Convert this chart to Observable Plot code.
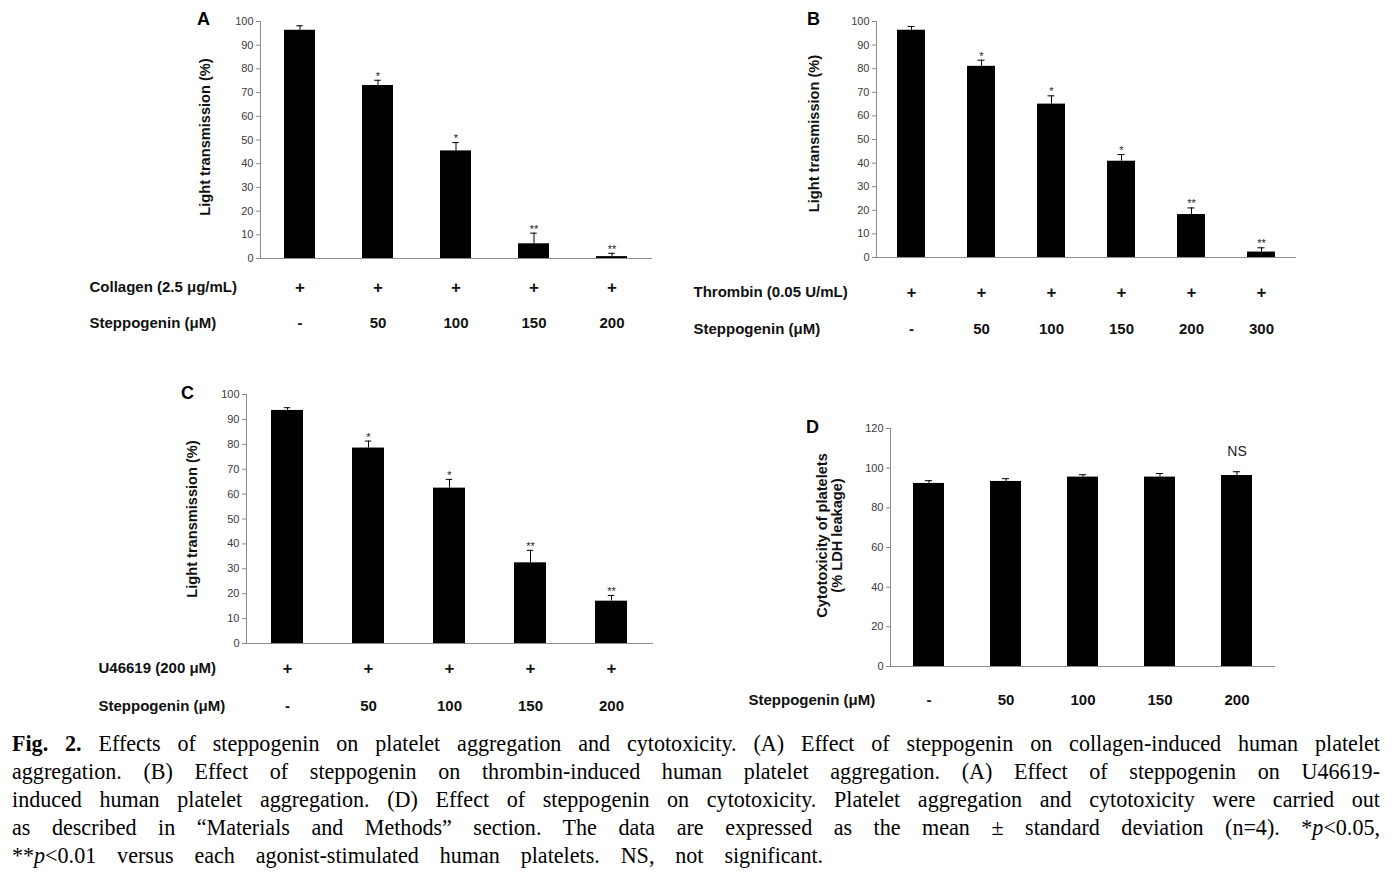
<!DOCTYPE html>
<html>
<head>
<meta charset="utf-8">
<script src="https://cdn.jsdelivr.net/npm/d3@7"></script>
<script src="https://cdn.jsdelivr.net/npm/@observablehq/plot@0.6"></script>
<style>
  html, body { margin: 0; padding: 0; background: #fff; }
  #fig { position: relative; width: 1396px; height: 892px; overflow: hidden; background: #fff; }
  #fig svg { position: absolute; overflow: visible; background: transparent; }
  #caption { position: absolute; left: 12px; top: 730px; width: 1425px; transform: scaleX(0.96); transform-origin: 0 0; font-family: "Liberation Serif", "Times New Roman", serif; font-size: 23px; line-height: 28px; color: #000; }
  #caption .j { text-align: justify; text-align-last: justify; }
  #caption .l { text-align: left; word-spacing: 16px; }
</style>
</head>
<body>
<div id="fig">
  <div id="caption">
    <div class="j"><b>Fig. 2.</b> Effects of steppogenin on platelet aggregation and cytotoxicity. (A) Effect of steppogenin on collagen-induced human platelet</div>
    <div class="j">aggregation. (B) Effect of steppogenin on thrombin-induced human platelet aggregation. (A) Effect of steppogenin on U46619-</div>
    <div class="j">induced human platelet aggregation. (D) Effect of steppogenin on cytotoxicity. Platelet aggregation and cytotoxicity were carried out</div>
    <div class="j">as described in “Materials and Methods” section. The data are expressed as the mean ± standard deviation (n=4). *<i>p</i>&lt;0.05,</div>
    <div class="l">**<i>p</i>&lt;0.01 versus each agonist-stimulated human platelets. NS, not significant.</div>
  </div>
</div>
<script>
// ---- Data ----
const doseA = ["-", "50", "100", "150", "200"];
const agonistA = ["+", "+", "+", "+", "+"];
const meanA = [96.3, 73.0, 45.4, 6.2, 0.8];
const sdA = [1.9, 2.2, 3.5, 4.5, 1.4];
const sigA = ["", "*", "*", "**", "**"];

const doseB = ["-", "50", "100", "150", "200", "300"];
const agonistB = ["+", "+", "+", "+", "+", "+"];
const meanB = [96.3, 81.0, 65.0, 40.8, 18.2, 2.3];
const sdB = [1.6, 2.6, 3.5, 2.8, 2.8, 1.8];
const sigB = ["", "*", "*", "*", "**", "**"];

const doseC = ["-", "50", "100", "150", "200"];
const agonistC = ["+", "+", "+", "+", "+"];
const meanC = [93.6, 78.5, 62.4, 32.4, 17.0];
const sdC = [1.1, 2.8, 3.5, 5.0, 2.3];
const sigC = ["", "*", "*", "**", "**"];

const doseD = ["-", "50", "100", "150", "200"];
const meanD = [92.3, 93.3, 95.5, 95.5, 96.3];
const sdD = [1.4, 1.4, 1.2, 1.8, 1.9];
const sigD = ["", "", "", "", "NS"];

const ticks100 = [0, 10, 20, 30, 40, 50, 60, 70, 80, 90, 100];
const ticks120 = [0, 20, 40, 60, 80, 100, 120];

const titleLT = "Light transmission (%)";
const titleD = "Cytotoxicity of platelets\n(% LDH leakage)";
const stepLabel = "Steppogenin (μM)";

// ---- Panel builder ----
const GRAY = "#8c8c8c";
function panel(cfg) {
  const data = cfg.dose.map((c, i) => ({
    cat: c, mean: cfg.mean[i], hi: cfg.mean[i] + cfg.sd[i], sig: cfg.sig[i],
    ag: cfg.agonist ? cfg.agonist[i] : null
  }));
  const marginLeft = cfg.axisX - cfg.left;
  const marginTop = cfg.frameTop - cfg.top;
  const marginBottom = cfg.top + cfg.height - cfg.frameBottom;
  const marginRight = cfg.left + cfg.width - cfg.frameRight;
  const step = (cfg.frameRight - cfg.axisX) / cfg.dose.length;
  const bw = step * 0.4;
  const capInset = (bw - 7) / 2;
  const bold = {fontSize: 15, fontWeight: "bold", fill: "#111"};

  const marks = [
    Plot.barY(data, {x: "cat", y: "mean", fill: "#000"}),
    Plot.ruleX(data, {x: "cat", y1: "mean", y2: "hi", stroke: "#000", strokeWidth: 1}),
    Plot.tickY(data, {x: "cat", y: "hi", stroke: "#000", strokeWidth: 1, insetLeft: capInset, insetRight: capInset}),
    Plot.text(data.filter(d => d.sig && d.sig !== "NS"), {x: "cat", y: "hi", text: "sig", dy: -4, fontSize: 11, fill: "#222", lineAnchor: "middle"}),
    Plot.text(data.filter(d => d.sig === "NS"), {x: "cat", y: "hi", text: "sig", dy: -20, fontSize: 14, fill: "#222", lineAnchor: "middle"}),
    Plot.ruleY([0], {stroke: GRAY}),
    Plot.frame({anchor: "left", stroke: GRAY}),
    Plot.axisY({ticks: cfg.ticks, tickSize: 4, tickPadding: 3, fontSize: 11, fill: "#3a3a3a", stroke: GRAY, label: null}),
    // panel letter
    Plot.text([cfg.letter], {text: d => d, frameAnchor: "top-left", dx: cfg.letterDx, dy: cfg.letterDy, fontSize: 18, fontWeight: "bold", textAnchor: "middle", lineAnchor: "middle", fill: "#000"}),
    // y title
    Plot.text([cfg.title], {text: d => d, frameAnchor: "left", rotate: -90, dx: cfg.titleDx, dy: cfg.titleDy, fontSize: 14.6, fontWeight: "bold", textAnchor: "middle", lineAnchor: "middle", lineHeight: 1.05, fill: "#111"}),
    // dose row
    Plot.text(data, {x: "cat", text: "cat", frameAnchor: "bottom", dy: cfg.doseDy, lineAnchor: "middle", ...bold}),
    Plot.text([stepLabel], {text: d => d, frameAnchor: "bottom-left", dx: cfg.rowX - cfg.axisX, dy: cfg.doseDy, textAnchor: "start", lineAnchor: "middle", ...bold})
  ];
  if (cfg.agonist) {
    marks.push(
      Plot.text(data, {x: "cat", text: "ag", frameAnchor: "bottom", dy: cfg.agDy, lineAnchor: "middle", ...bold, fontSize: 17}),
      Plot.text([cfg.agLabel], {text: d => d, frameAnchor: "bottom-left", dx: cfg.rowX - cfg.axisX, dy: cfg.agDy, textAnchor: "start", lineAnchor: "middle", ...bold})
    );
  }
  const svg = Plot.plot({
    width: cfg.width, height: cfg.height,
    marginLeft, marginTop, marginBottom, marginRight,
    style: {fontFamily: "'Liberation Sans', Arial, sans-serif", background: "transparent", overflow: "visible"},
    x: {domain: cfg.dose, paddingInner: 0.6, paddingOuter: 0.3, axis: null},
    y: {domain: cfg.yDomain},
    marks
  });
  svg.style.left = cfg.left + "px";
  svg.style.top = cfg.top + "px";
  document.getElementById("fig").appendChild(svg);
}

panel({
  letter: "A", left: 80, top: 0, width: 590, height: 345,
  axisX: 260, frameTop: 21, frameBottom: 258, frameRight: 652,
  yDomain: [0, 100], ticks: ticks100,
  dose: doseA, agonist: agonistA, mean: meanA, sd: sdA, sig: sigA,
  agLabel: "Collagen (2.5 μg/mL)", rowX: 89, agDy: 29, doseDy: 65,
  title: titleLT, titleDx: -55, titleDy: -3, letterDx: -57, letterDy: -2
});
panel({
  letter: "B", left: 680, top: 0, width: 700, height: 345,
  axisX: 876, frameTop: 21, frameBottom: 257, frameRight: 1296,
  yDomain: [0, 100], ticks: ticks100,
  dose: doseB, agonist: agonistB, mean: meanB, sd: sdB, sig: sigB,
  agLabel: "Thrombin (0.05 U/mL)", rowX: 693, agDy: 35, doseDy: 72,
  title: titleLT, titleDx: -62, titleDy: -6, letterDx: -63, letterDy: -2
});
panel({
  letter: "C", left: 80, top: 370, width: 590, height: 350,
  axisX: 246, frameTop: 394, frameBottom: 643, frameRight: 653,
  yDomain: [0, 100], ticks: ticks100,
  dose: doseC, agonist: agonistC, mean: meanC, sd: sdC, sig: sigC,
  agLabel: "U46619 (200 μM)", rowX: 98, agDy: 25, doseDy: 63,
  title: titleLT, titleDx: -54, titleDy: 0, letterDx: -59, letterDy: -1
});
panel({
  letter: "D", left: 740, top: 400, width: 560, height: 320,
  axisX: 890, frameTop: 428, frameBottom: 666, frameRight: 1275,
  yDomain: [0, 120], ticks: ticks120,
  dose: doseD, agonist: null, mean: meanD, sd: sdD, sig: sigD,
  rowX: 748, doseDy: 34,
  title: titleD, titleDx: -61, titleDy: -12, letterDx: -78, letterDy: -1
});
</script>
</body>
</html>
